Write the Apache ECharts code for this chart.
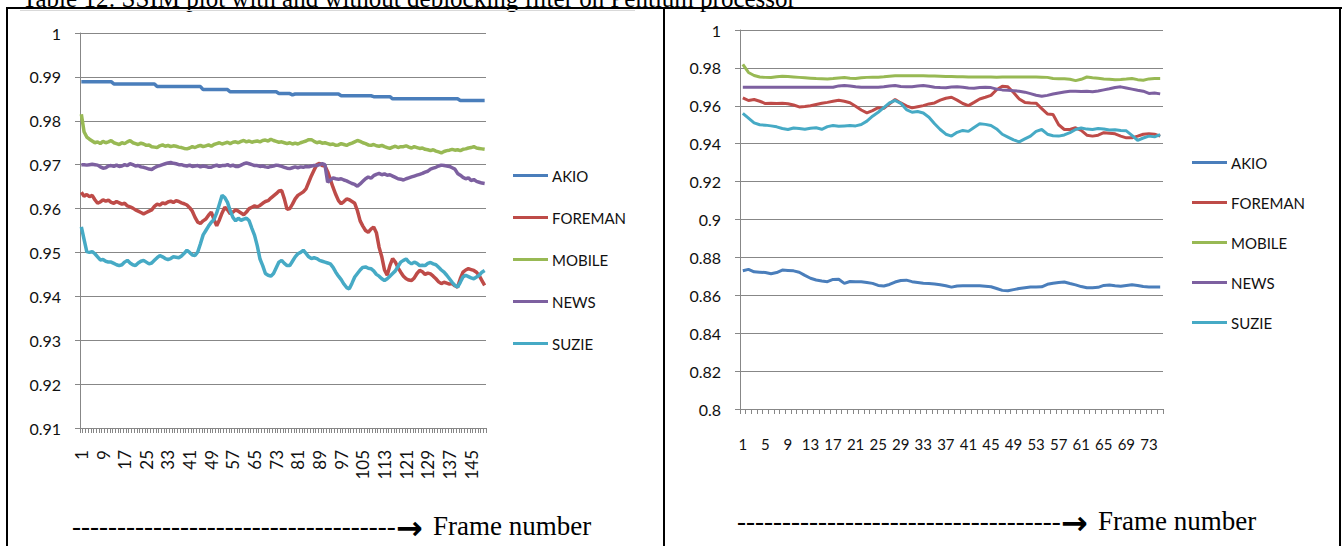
<!DOCTYPE html>
<html>
<head>
<meta charset="utf-8">
<script src="https://cdn.jsdelivr.net/npm/echarts@6/dist/echarts.min.js"></script>
<style>
  html, body { margin: 0; padding: 0; background: #fff; }
  #chart { width: 1342px; height: 546px; }
</style>
</head>
<body>
<div id="chart"></div>
<script>
// series names (same order in both charts)
const seriesNames = ['AKIO', 'FOREMAN', 'MOBILE', 'NEWS', 'SUZIE'];
const seriesColors = ['#4a7ebb', '#be4b48', '#98b954', '#7d60a0', '#46aac5'];

// left chart: 150 frames, y axis 0.91 .. 1
const leftFrames = Array.from({ length: 150 }, (_, i) => String(i + 1));
const leftYMin = 0.91, leftYMax = 1, leftYStep = 0.01;

const leftAkio = [
  0.9889, 0.9889, 0.9889, 0.9889, 0.9889, 0.9889, 0.9889, 0.9889, 0.9889, 0.9889,
  0.9889, 0.9889, 0.9884, 0.9884, 0.9884, 0.9884, 0.9884, 0.9884, 0.9884, 0.9884,
  0.9884, 0.9884, 0.9884, 0.9884, 0.9884, 0.9884, 0.9884, 0.9884, 0.9878, 0.9878,
  0.9878, 0.9878, 0.9878, 0.9878, 0.9878, 0.9878, 0.9878, 0.9878, 0.9878, 0.9878,
  0.9878, 0.9878, 0.9878, 0.9878, 0.9878, 0.9871, 0.9871, 0.9871, 0.9871, 0.9871,
  0.9871, 0.9871, 0.9871, 0.9871, 0.9871, 0.9866, 0.9866, 0.9866, 0.9866, 0.9866,
  0.9866, 0.9866, 0.9866, 0.9866, 0.9866, 0.9866, 0.9866, 0.9866, 0.9866, 0.9866,
  0.9866, 0.9866, 0.9866, 0.9862, 0.9862, 0.9862, 0.9862, 0.9862, 0.9859, 0.9861,
  0.9861, 0.9861, 0.9861, 0.9861, 0.9861, 0.9861, 0.9861, 0.9861, 0.9861, 0.9861,
  0.9861, 0.9861, 0.9861, 0.9861, 0.9861, 0.9861, 0.9857, 0.9857, 0.9857, 0.9857,
  0.9857, 0.9857, 0.9857, 0.9857, 0.9857, 0.9857, 0.9857, 0.9857, 0.9855, 0.9855,
  0.9855, 0.9855, 0.9855, 0.9855, 0.9855, 0.9850, 0.9850, 0.9850, 0.9850, 0.9850,
  0.9850, 0.9850, 0.9850, 0.9850, 0.9850, 0.9850, 0.9850, 0.9850, 0.9850, 0.9850,
  0.9850, 0.9850, 0.9850, 0.9850, 0.9850, 0.9850, 0.9850, 0.9850, 0.9850, 0.9850,
  0.9846, 0.9846, 0.9846, 0.9846, 0.9846, 0.9846, 0.9846, 0.9846, 0.9846, 0.9846
];
const leftForeman = [
  0.9637, 0.9628, 0.9632, 0.9627, 0.9630, 0.9620, 0.9612, 0.9615, 0.9620, 0.9617,
  0.9619, 0.9614, 0.9612, 0.9616, 0.9613, 0.9610, 0.9612, 0.9606, 0.9604, 0.9601,
  0.9597, 0.9594, 0.9591, 0.9588, 0.9591, 0.9594, 0.9597, 0.9605, 0.9610, 0.9608,
  0.9613, 0.9611, 0.9615, 0.9617, 0.9614, 0.9618, 0.9616, 0.9613, 0.9611, 0.9608,
  0.9602, 0.9594, 0.9580, 0.9569, 0.9566, 0.9572, 0.9576, 0.9585, 0.9592, 0.9575,
  0.9561, 0.9574, 0.9590, 0.9603, 0.9597, 0.9588, 0.9592, 0.9597, 0.9594, 0.9590,
  0.9586, 0.9592, 0.9600, 0.9603, 0.9606, 0.9604, 0.9607, 0.9612, 0.9616, 0.9618,
  0.9624, 0.9629, 0.9634, 0.9640, 0.9641, 0.9622, 0.9598, 0.9600, 0.9610, 0.9622,
  0.9630, 0.9634, 0.9638, 0.9645, 0.9660, 0.9675, 0.9688, 0.9700, 0.9703, 0.9698,
  0.9697, 0.9684, 0.9666, 0.9648, 0.9632, 0.9618, 0.9611, 0.9616, 0.9622, 0.9620,
  0.9616, 0.9612, 0.9595, 0.9572, 0.9560, 0.9550, 0.9546, 0.9553, 0.9558, 0.9545,
  0.9512, 0.9490, 0.9460, 0.9448, 0.9470, 0.9486, 0.9478, 0.9465, 0.9455, 0.9446,
  0.9440, 0.9437, 0.9436, 0.9442, 0.9452, 0.9459, 0.9456, 0.9450, 0.9453, 0.9451,
  0.9446, 0.9440, 0.9433, 0.9429, 0.9432, 0.9430, 0.9428, 0.9429, 0.9424, 0.9421,
  0.9440, 0.9455, 0.9460, 0.9463, 0.9461, 0.9459, 0.9455, 0.9447, 0.9436, 0.9425
];
const leftMobile = [
  0.9815, 0.9775, 0.9763, 0.9758, 0.9754, 0.9750, 0.9752, 0.9748, 0.9753, 0.9750,
  0.9752, 0.9755, 0.9750, 0.9748, 0.9746, 0.9750, 0.9748, 0.9752, 0.9755, 0.9750,
  0.9748, 0.9746, 0.9749, 0.9747, 0.9744, 0.9745, 0.9741, 0.9740, 0.9739, 0.9743,
  0.9745, 0.9742, 0.9744, 0.9741, 0.9743, 0.9742, 0.9740, 0.9739, 0.9737, 0.9736,
  0.9738, 0.9741, 0.9739, 0.9742, 0.9744, 0.9741, 0.9743, 0.9745, 0.9742, 0.9746,
  0.9748, 0.9750, 0.9747, 0.9749, 0.9751, 0.9748, 0.9751, 0.9752, 0.9750, 0.9753,
  0.9755, 0.9752, 0.9754, 0.9751, 0.9753, 0.9754, 0.9752, 0.9755, 0.9756, 0.9754,
  0.9758, 0.9755, 0.9753, 0.9751, 0.9752, 0.9750, 0.9748, 0.9750, 0.9747, 0.9749,
  0.9747, 0.9750, 0.9752, 0.9754, 0.9757, 0.9757, 0.9753, 0.9750, 0.9752, 0.9749,
  0.9750, 0.9748, 0.9746, 0.9747, 0.9744, 0.9745, 0.9748, 0.9746, 0.9744, 0.9747,
  0.9749, 0.9752, 0.9755, 0.9753, 0.9750, 0.9748, 0.9745, 0.9744, 0.9746, 0.9743,
  0.9742, 0.9744, 0.9741, 0.9739, 0.9737, 0.9740, 0.9742, 0.9739, 0.9741, 0.9741,
  0.9743, 0.9740, 0.9738, 0.9741, 0.9739, 0.9737, 0.9738, 0.9735, 0.9734, 0.9732,
  0.9734, 0.9731, 0.9729, 0.9727, 0.9730, 0.9732, 0.9733, 0.9735, 0.9733, 0.9734,
  0.9732, 0.9735, 0.9736, 0.9738, 0.9739, 0.9741, 0.9738, 0.9737, 0.9736, 0.9735
];
const leftNews = [
  0.9700, 0.9700, 0.9699, 0.9700, 0.9701, 0.9700, 0.9699, 0.9695, 0.9692, 0.9693,
  0.9697, 0.9698, 0.9696, 0.9699, 0.9696, 0.9697, 0.9700, 0.9698, 0.9702, 0.9700,
  0.9697, 0.9698, 0.9695, 0.9694, 0.9692, 0.9690, 0.9689, 0.9693, 0.9696, 0.9698,
  0.9700, 0.9702, 0.9704, 0.9705, 0.9703, 0.9702, 0.9700, 0.9700, 0.9698, 0.9697,
  0.9699, 0.9696, 0.9697, 0.9698, 0.9695, 0.9697, 0.9696, 0.9694, 0.9694, 0.9697,
  0.9699, 0.9696, 0.9698, 0.9698, 0.9700, 0.9697, 0.9699, 0.9696, 0.9696, 0.9699,
  0.9702, 0.9704, 0.9702, 0.9700, 0.9698, 0.9698, 0.9696, 0.9697, 0.9695, 0.9694,
  0.9696, 0.9697, 0.9699, 0.9698, 0.9696, 0.9694, 0.9692, 0.9691, 0.9693, 0.9695,
  0.9693, 0.9695, 0.9694, 0.9696, 0.9695, 0.9697, 0.9698, 0.9698, 0.9700, 0.9702,
  0.9700, 0.9660, 0.9665, 0.9670, 0.9668, 0.9667, 0.9668, 0.9665, 0.9663, 0.9660,
  0.9657, 0.9655, 0.9651, 0.9656, 0.9662, 0.9668, 0.9672, 0.9669, 0.9675, 0.9678,
  0.9680, 0.9677, 0.9679, 0.9676, 0.9677, 0.9674, 0.9671, 0.9668, 0.9667, 0.9665,
  0.9668, 0.9670, 0.9672, 0.9674, 0.9676, 0.9678, 0.9680, 0.9683, 0.9685, 0.9690,
  0.9692, 0.9694, 0.9697, 0.9699, 0.9698, 0.9697, 0.9696, 0.9693, 0.9690, 0.9680,
  0.9676, 0.9671, 0.9668, 0.9670, 0.9664, 0.9666, 0.9662, 0.9660, 0.9658, 0.9657
];
const leftSuzie = [
  0.9558, 0.9530, 0.9502, 0.9500, 0.9502, 0.9497, 0.9490, 0.9483, 0.9484, 0.9480,
  0.9478, 0.9478, 0.9475, 0.9472, 0.9470, 0.9472, 0.9478, 0.9482, 0.9476, 0.9472,
  0.9470, 0.9476, 0.9480, 0.9482, 0.9478, 0.9474, 0.9476, 0.9482, 0.9488, 0.9493,
  0.9490, 0.9486, 0.9484, 0.9486, 0.9490, 0.9489, 0.9488, 0.9492, 0.9498, 0.9505,
  0.9500, 0.9494, 0.9493, 0.9501, 0.9520, 0.9540, 0.9550, 0.9560, 0.9569, 0.9575,
  0.9590, 0.9610, 0.9630, 0.9625, 0.9614, 0.9595, 0.9580, 0.9572, 0.9578, 0.9573,
  0.9576, 0.9578, 0.9572, 0.9555, 0.9539, 0.9515, 0.9485, 0.9470, 0.9452, 0.9448,
  0.9446, 0.9452, 0.9465, 0.9478, 0.9482, 0.9475, 0.9470, 0.9470, 0.9480, 0.9490,
  0.9497, 0.9500, 0.9505, 0.9498, 0.9490, 0.9486, 0.9488, 0.9486, 0.9482, 0.9480,
  0.9478, 0.9476, 0.9474, 0.9466, 0.9455, 0.9446, 0.9438, 0.9428, 0.9420, 0.9417,
  0.9430, 0.9444, 0.9452, 0.9460, 0.9466, 0.9467, 0.9464, 0.9463, 0.9458, 0.9450,
  0.9446, 0.9440, 0.9436, 0.9440, 0.9446, 0.9452, 0.9458, 0.9468, 0.9478, 0.9482,
  0.9485, 0.9478, 0.9474, 0.9478, 0.9475, 0.9470, 0.9471, 0.9470, 0.9475, 0.9477,
  0.9474, 0.9472, 0.9466, 0.9460, 0.9455, 0.9448, 0.9440, 0.9432, 0.9425, 0.9421,
  0.9432, 0.9444, 0.9448, 0.9445, 0.9442, 0.9440, 0.9444, 0.9448, 0.9455, 0.9459
];

// right chart: 75 frames, y axis 0.8 .. 1
const rightFrames = Array.from({ length: 75 }, (_, i) => String(i + 1));
const rightYMin = 0.8, rightYMax = 1, rightYStep = 0.02;

const rightAkio = [
  0.8730, 0.8737, 0.8724, 0.8722, 0.8720, 0.8714, 0.8720, 0.8733, 0.8731, 0.8729,
  0.8722, 0.8705, 0.8690, 0.8681, 0.8676, 0.8672, 0.8684, 0.8685, 0.8663, 0.8673,
  0.8672, 0.8672, 0.8668, 0.8663, 0.8652, 0.8649, 0.8657, 0.8670, 0.8678, 0.8680,
  0.8672, 0.8668, 0.8664, 0.8662, 0.8660, 0.8656, 0.8650, 0.8643, 0.8649, 0.8650,
  0.8650, 0.8650, 0.8650, 0.8648, 0.8645, 0.8636, 0.8626, 0.8624, 0.8630, 0.8636,
  0.8640, 0.8644, 0.8644, 0.8645, 0.8658, 0.8664, 0.8668, 0.8670, 0.8662, 0.8655,
  0.8646, 0.8640, 0.8640, 0.8642, 0.8652, 0.8654, 0.8650, 0.8648, 0.8652, 0.8656,
  0.8652, 0.8646, 0.8644, 0.8644, 0.8644
];
const rightForeman = [
  0.9642, 0.9628, 0.9633, 0.9624, 0.9612, 0.9614, 0.9612, 0.9613, 0.9611, 0.9604,
  0.9594, 0.9596, 0.9600, 0.9607, 0.9613, 0.9618, 0.9624, 0.9629, 0.9624, 0.9616,
  0.9598, 0.9578, 0.9563, 0.9575, 0.9590, 0.9586, 0.9610, 0.9633, 0.9615, 0.9600,
  0.9589, 0.9595, 0.9601, 0.9610, 0.9615, 0.9630, 0.9640, 0.9645, 0.9630, 0.9612,
  0.9601, 0.9618, 0.9636, 0.9645, 0.9655, 0.9685, 0.9703, 0.9700, 0.9670, 0.9636,
  0.9618, 0.9615, 0.9614, 0.9585, 0.9557, 0.9554, 0.9500, 0.9475, 0.9475, 0.9484,
  0.9470, 0.9445, 0.9440, 0.9445, 0.9458, 0.9455, 0.9452, 0.9440, 0.9431, 0.9431,
  0.9440, 0.9450, 0.9452, 0.9450, 0.9440
];
const rightMobile = [
  0.9818, 0.9776, 0.9760, 0.9752, 0.9750, 0.9749, 0.9753, 0.9756, 0.9754, 0.9752,
  0.9750, 0.9748, 0.9746, 0.9744, 0.9743, 0.9742, 0.9744, 0.9747, 0.9749, 0.9745,
  0.9744, 0.9748, 0.9750, 0.9751, 0.9751, 0.9753, 0.9756, 0.9758, 0.9758, 0.9758,
  0.9758, 0.9758, 0.9758, 0.9757, 0.9757, 0.9756, 0.9755, 0.9754, 0.9753, 0.9753,
  0.9752, 0.9752, 0.9752, 0.9752, 0.9752, 0.9751, 0.9752, 0.9752, 0.9752, 0.9752,
  0.9752, 0.9752, 0.9752, 0.9751, 0.9750, 0.9744, 0.9743, 0.9743, 0.9740, 0.9733,
  0.9740, 0.9752, 0.9748, 0.9745, 0.9742, 0.9740, 0.9738, 0.9739, 0.9741, 0.9744,
  0.9738, 0.9735, 0.9742, 0.9744, 0.9744
];
const rightNews = [
  0.9698, 0.9698, 0.9698, 0.9698, 0.9698, 0.9698, 0.9698, 0.9698, 0.9698, 0.9698,
  0.9698, 0.9698, 0.9698, 0.9698, 0.9698, 0.9698, 0.9698, 0.9705, 0.9707, 0.9705,
  0.9700, 0.9698, 0.9698, 0.9698, 0.9698, 0.9700, 0.9704, 0.9707, 0.9702, 0.9700,
  0.9701, 0.9704, 0.9707, 0.9703, 0.9698, 0.9696, 0.9695, 0.9699, 0.9700, 0.9698,
  0.9694, 0.9693, 0.9696, 0.9698, 0.9696, 0.9688, 0.9684, 0.9682, 0.9680, 0.9677,
  0.9672, 0.9664, 0.9656, 0.9650, 0.9655, 0.9662, 0.9668, 0.9673, 0.9677, 0.9677,
  0.9676, 0.9677, 0.9674, 0.9678, 0.9684, 0.9690, 0.9697, 0.9700, 0.9694, 0.9688,
  0.9682, 0.9677, 0.9665, 0.9668, 0.9663
];
const rightSuzie = [
  0.9560, 0.9535, 0.9510, 0.9500, 0.9498, 0.9494, 0.9489, 0.9480, 0.9475, 0.9483,
  0.9480, 0.9476, 0.9482, 0.9484, 0.9476, 0.9490, 0.9496, 0.9492, 0.9494, 0.9496,
  0.9494, 0.9501, 0.9519, 0.9545, 0.9566, 0.9590, 0.9615, 0.9628, 0.9613, 0.9580,
  0.9566, 0.9570, 0.9562, 0.9540, 0.9505, 0.9475, 0.9450, 0.9440, 0.9460, 0.9470,
  0.9465, 0.9486, 0.9505, 0.9502, 0.9496, 0.9478, 0.9450, 0.9435, 0.9420, 0.9410,
  0.9425, 0.9440, 0.9465, 0.9475, 0.9450, 0.9442, 0.9440, 0.9446, 0.9458, 0.9475,
  0.9483, 0.9477, 0.9475, 0.9480, 0.9478, 0.9472, 0.9474, 0.9470, 0.9468, 0.9444,
  0.9418, 0.9430, 0.9440, 0.9436, 0.9448
];

const leftSeriesData = [leftAkio, leftForeman, leftMobile, leftNews, leftSuzie];
const rightSeriesData = [rightAkio, rightForeman, rightMobile, rightNews, rightSuzie];

const captionText = 'Table 12: SSIM plot with and without deblocking filter on Pentium processor';
const dashText = '------------------------------------';
const arrowText = '\u2192';
const frameText = 'Frame number';

const labelFont = 'Lato, "Open Sans", sans-serif';
const serifFont = '27px "Liberation Serif", serif';
const gridColor = '#878787';

const fmtY = (v) => String(+v.toFixed(2));

const makeYAxis = (gridIndex, min, max, step) => ({
  type: 'value',
  gridIndex: gridIndex,
  min: min,
  max: max,
  interval: step,
  axisLine: { show: true, lineStyle: { color: gridColor, width: 1 } },
  axisTick: { show: true, length: 5, lineStyle: { color: gridColor } },
  splitLine: { show: true, lineStyle: { color: gridColor, width: 1 } },
  axisLabel: {
    color: '#111',
    fontSize: 16,
    fontFamily: labelFont,
    margin: 19,
    formatter: fmtY
  }
});

const makeSeries = (data, xi, yi) => seriesNames.map((name, i) => ({
  name: name,
  type: 'line',
  xAxisIndex: xi,
  yAxisIndex: yi,
  data: data[i],
  symbol: 'none',
  smooth: false,
  animation: false,
  lineStyle: { color: seriesColors[i], width: xi === 0 ? 3.5 : 3 },
  itemStyle: { color: seriesColors[i] }
}));

// "-------→Frame number" caption under each chart: dashes, arrow, words
const frameCaption = (left, top) => [
  { type: 'text', left: left, top: top, style: { text: dashText, font: serifFont, fill: '#000' } },
  { type: 'text', left: left + 324, top: top, style: { text: arrowText, font: 'bold 32px "DejaVu Sans", sans-serif', fill: '#000' } },
  { type: 'text', left: left + 361, top: top, style: { text: frameText, font: serifFont, fill: '#000' } }
];

const myChart = echarts.init(document.getElementById('chart'), null, { renderer: 'svg' });

const option = {
  backgroundColor: '#fff',
  animation: false,
  color: seriesColors,
  grid: [
    { left: 80, top: 33, width: 406, height: 395 },
    { left: 740, top: 30, width: 423, height: 379 }
  ],
  xAxis: [
    {
      type: 'category',
      gridIndex: 0,
      data: leftFrames,
      boundaryGap: true,
      axisLine: { lineStyle: { color: gridColor } },
      axisTick: { show: true, interval: 0, length: 5, lineStyle: { color: gridColor } },
      axisLabel: {
        interval: 7,
        rotate: 90,
        color: '#111',
        fontSize: 17,
        fontFamily: labelFont,
        margin: 22
      }
    },
    {
      type: 'category',
      gridIndex: 1,
      data: rightFrames,
      boundaryGap: true,
      axisLine: { lineStyle: { color: gridColor } },
      axisTick: { show: true, interval: 0, length: 5, lineStyle: { color: gridColor } },
      axisLabel: {
        interval: 3,
        color: '#111',
        fontSize: 15,
        fontFamily: labelFont,
        margin: 27
      }
    }
  ],
  yAxis: [
    makeYAxis(0, leftYMin, leftYMax, leftYStep),
    makeYAxis(1, rightYMin, rightYMax, rightYStep)
  ],
  legend: [
    {
      data: seriesNames,
      orient: 'vertical',
      left: 513,
      top: 168,
      padding: 0,
      icon: 'rect',
      itemWidth: 35,
      itemHeight: 3,
      itemGap: 27,
      textStyle: { color: '#111', fontSize: 15, fontFamily: labelFont, padding: [0, 0, 0, -1] }
    },
    {
      data: seriesNames,
      orient: 'vertical',
      left: 1192,
      top: 155,
      padding: 0,
      icon: 'rect',
      itemWidth: 35,
      itemHeight: 3,
      itemGap: 25,
      textStyle: { color: '#111', fontSize: 15, fontFamily: labelFont, padding: [0, 0, 0, -1] }
    }
  ],
  series: [
    ...makeSeries(leftSeriesData, 0, 0),
    ...makeSeries(rightSeriesData, 1, 1)
  ],
  graphic: [
    // caption of the table, cut off at the top of the page
    {
      type: 'text', left: 22, top: -14,
      style: { text: captionText, font: '25px "Liberation Serif", serif', fill: '#000' }
    },
    // table borders
    { type: 'line', shape: { x1: 6, y1: 8, x2: 1342, y2: 8 }, style: { stroke: '#000', lineWidth: 2 } },
    { type: 'line', shape: { x1: 7, y1: 8, x2: 7, y2: 546 }, style: { stroke: '#000', lineWidth: 2 } },
    { type: 'line', shape: { x1: 664, y1: 8, x2: 664, y2: 546 }, style: { stroke: '#000', lineWidth: 2 } },
    { type: 'line', shape: { x1: 1340, y1: 8, x2: 1340, y2: 546 }, style: { stroke: '#000', lineWidth: 2 } },
    // excel chart area edge of the left chart
    { type: 'line', shape: { x1: 20, y1: 10.5, x2: 635, y2: 10.5 }, style: { stroke: '#d9d9d9', lineWidth: 1 } },
    ...frameCaption(72, 512),
    ...frameCaption(737, 507)
  ]
};

myChart.setOption(option);
</script>
</body>
</html>
